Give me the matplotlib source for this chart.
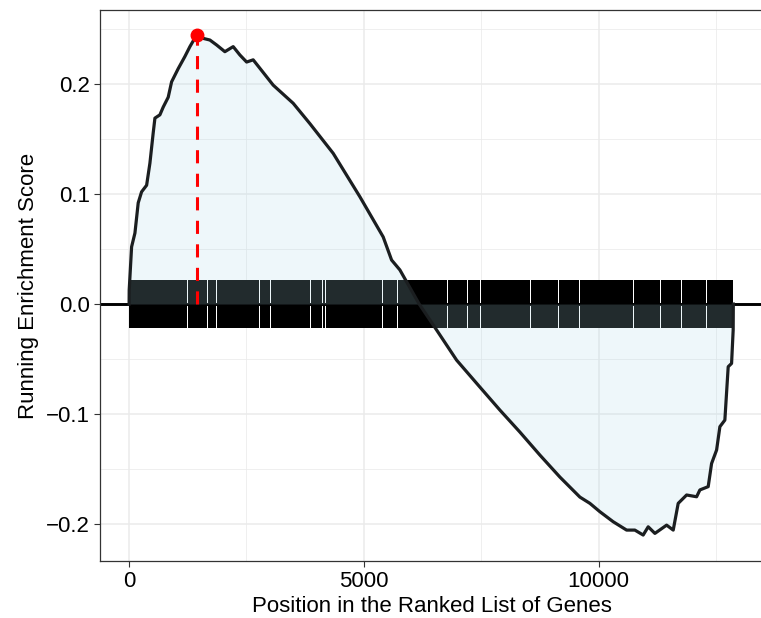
import numpy as np
import matplotlib
matplotlib.use("Agg")
import matplotlib.pyplot as plt
from matplotlib.ticker import MultipleLocator

plt.rcParams['font.family'] = ['Liberation Sans', 'DejaVu Sans']

# running enrichment score (gene rank, score)
rank = [0, 2, 53, 124, 194, 266, 373, 443, 513, 550, 656, 726, 833, 905, 1046,
        1188, 1295, 1438, 1578, 1721, 1864, 2040, 2217, 2360, 2503, 2643, 2786,
        3069, 3495, 3851, 4347, 4916, 5412, 5591, 5768, 6179, 6550, 6976, 7472,
        7898, 8324, 8750, 9176, 9602, 9815, 10028, 10311, 10597, 10773, 10950,
        11057, 11200, 11449, 11590, 11696, 11875, 12088, 12158, 12335, 12407,
        12514, 12584, 12690, 12761, 12833, 12867, 12870]
es = [0.0, 0.0127, 0.052, 0.0645, 0.092, 0.102, 0.108, 0.128, 0.1555, 0.169,
      0.172, 0.179, 0.188, 0.202, 0.214, 0.225, 0.234, 0.2445, 0.2415, 0.240,
      0.2355, 0.2294, 0.234, 0.2264, 0.220, 0.222, 0.2143, 0.199, 0.1825,
      0.164, 0.137, 0.0975, 0.061, 0.040, 0.031, 0.0, -0.0236, -0.051,
      -0.0755, -0.0964, -0.1164, -0.1373, -0.1573, -0.1755, -0.1812, -0.1888,
      -0.1979, -0.2055, -0.2055, -0.2100, -0.2025, -0.2085, -0.2010, -0.2055,
      -0.1812, -0.1736, -0.1752, -0.1690, -0.1660, -0.1450, -0.1327, -0.1115,
      -0.1055, -0.0570, -0.0540, -0.0236, 0.0]

n_genes = 12870
peak_rank = 1438
peak_es = 0.2445

# white gaps in the hit rug (gene rank)
rug_gaps = [656, 1246, 1557, 1672, 1770, 1864, 1983, 2041, 2281, 2780, 2956,
            3014, 3133, 3866, 3964, 4022, 4114, 4178, 4582, 5008, 5400, 5576,
            5719, 6002, 6776, 7025, 7202, 7487, 7841, 7983, 8196, 8373, 8552,
            9148, 9289, 9538, 9596, 9858, 10262, 10305, 10546, 10746, 10950,
            11057, 11163, 11321, 11589, 11768, 11945, 12101, 12301, 12477, 12740]
rug_half = 0.022

fig = plt.figure(figsize=(7.61, 6.18), dpi=100)
ax = fig.add_axes([100 / 761, 1 - 561 / 618, 663.5 / 761, 551 / 618])

# rug of hits: solid runs between the gaps
gap_w = 12
edges = [0] + rug_gaps + [n_genes]
runs = []
for i in range(len(edges) - 1):
    s = edges[i] + (gap_w / 2 if i > 0 else 0)
    e = edges[i + 1] - (gap_w / 2 if i < len(edges) - 2 else 0)
    runs.append((s, e - s))
ax.broken_barh(runs, (-rug_half, 2 * rug_half), facecolor='black',
               edgecolor='none', zorder=1)

ax.axhline(0, color='black', lw=2.1, zorder=2)
ax.fill_between(rank, es, 0, color='#add8e6', alpha=0.2, lw=0, zorder=3)
ax.plot(rank, es, color='#1b1e20', lw=2.3, solid_joinstyle='round', zorder=4)

ax.plot([peak_rank, peak_rank], [0, peak_es], color='red', lw=2.2,
        linestyle=(0, (4.3, 3.4)), zorder=5)
ax.plot([peak_rank], [peak_es], 'o', color='red', ms=9, zorder=6)

ax.set_xlim(-620, 13513)
ax.set_ylim(-0.2336, 0.2673)
ax.set_xticks([0, 5000, 10000])
ax.set_yticks([-0.2, -0.1, 0.0, 0.1, 0.2])
ax.xaxis.set_minor_locator(MultipleLocator(2500))
ax.yaxis.set_minor_locator(MultipleLocator(0.05))
ax.grid(which='major', color='#ebebeb', lw=1.1, zorder=0)
ax.grid(which='minor', color='#ebebeb', lw=0.55, zorder=0)
ax.set_axisbelow(True)
ax.tick_params(which='minor', length=0)
ax.tick_params(which='major', length=4, width=0.8, color='#333333',
               labelsize=16, labelcolor='black', pad=3)
for sp in ax.spines.values():
    sp.set_color('#333333')
    sp.set_linewidth(0.9)

ax.set_xlabel('Position in the Ranked List of Genes', fontsize=16, labelpad=3)
ax.set_ylabel('Running Enrichment Score', fontsize=16, labelpad=5)

fig.savefig('out.png', dpi=100)
